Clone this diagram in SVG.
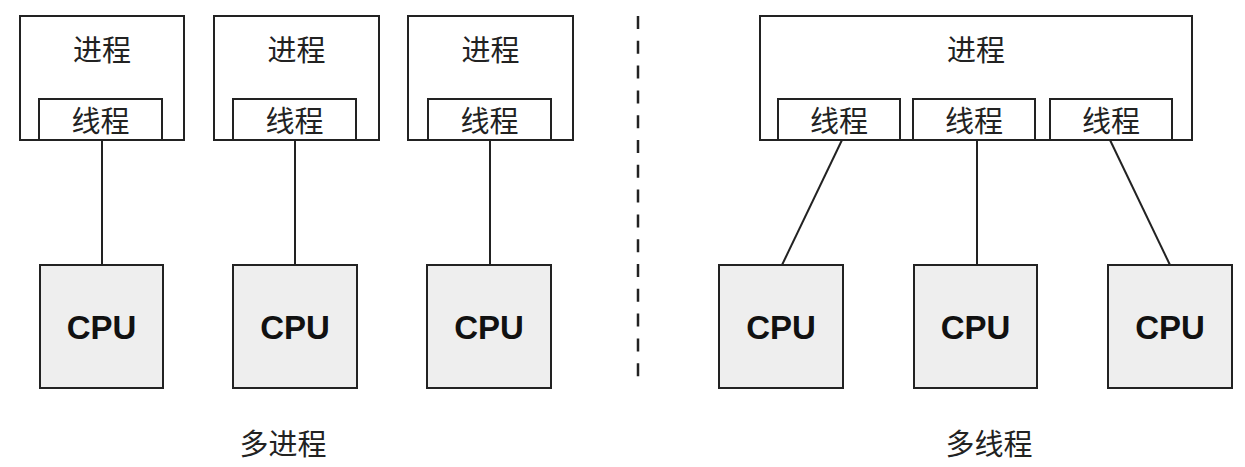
<svg xmlns="http://www.w3.org/2000/svg" width="1245" height="467" viewBox="0 0 1245 467">
<style>
.box{fill:#ffffff;stroke:#222222;stroke-width:2}
.cpu{fill:#eeeeee;stroke:#222222;stroke-width:2}
.cjk{font-family:"Noto Sans CJK SC","Liberation Sans",sans-serif;font-size:29px;fill:#222222;text-anchor:middle;dominant-baseline:central}
.cpuT{font-family:"Liberation Sans",Arial,sans-serif;font-weight:bold;font-size:33px;fill:#111111;text-anchor:middle;dominant-baseline:central}
.line{stroke:#222222;stroke-width:2;fill:none}
</style>
<rect width="1245" height="467" fill="#ffffff"/>
<g id="connectors">
<line class="line" x1="102" y1="140" x2="102" y2="265"/>
<line class="line" x1="295" y1="140" x2="295" y2="265"/>
<line class="line" x1="490" y1="140" x2="490" y2="265"/>
<line class="line" x1="842" y1="140" x2="782" y2="265"/>
<line class="line" x1="977" y1="140" x2="977" y2="265"/>
<line class="line" x1="1110" y1="140" x2="1170" y2="265"/>
<line id="divider" x1="638" y1="16" x2="638" y2="378" stroke="#222222" stroke-width="2.5" stroke-dasharray="13 11.8"/>
</g>
<g id="proc1"><rect class="box" x="20" y="16" width="164" height="124"/><text class="cjk" x="102" y="48">进程</text></g>
<g id="thread1"><rect class="box" x="39" y="99" width="123" height="41"/><text class="cjk" x="100.5" y="119">线程</text></g>
<g id="proc2"><rect class="box" x="214" y="16" width="165" height="124"/><text class="cjk" x="296.5" y="48">进程</text></g>
<g id="thread2"><rect class="box" x="233" y="99" width="123" height="41"/><text class="cjk" x="294.5" y="119">线程</text></g>
<g id="proc3"><rect class="box" x="408" y="16" width="165" height="124"/><text class="cjk" x="490.5" y="48">进程</text></g>
<g id="thread3"><rect class="box" x="428" y="99" width="123" height="41"/><text class="cjk" x="489.5" y="119">线程</text></g>
<g id="cpu1"><rect class="cpu" x="40" y="265" width="123" height="123"/><text class="cpuT" x="101.5" y="327">CPU</text></g>
<g id="cpu2"><rect class="cpu" x="233" y="265" width="124" height="123"/><text class="cpuT" x="295" y="327">CPU</text></g>
<g id="cpu3"><rect class="cpu" x="427" y="265" width="124" height="123"/><text class="cpuT" x="489" y="327">CPU</text></g>
<g id="procR"><rect class="box" x="760" y="16" width="432" height="124"/><text class="cjk" x="976" y="48">进程</text></g>
<g id="threadR1"><rect class="box" x="778" y="99" width="122" height="41"/><text class="cjk" x="839" y="119">线程</text></g>
<g id="threadR2"><rect class="box" x="913" y="99" width="122" height="41"/><text class="cjk" x="974" y="119">线程</text></g>
<g id="threadR3"><rect class="box" x="1050" y="99" width="122" height="41"/><text class="cjk" x="1111" y="119">线程</text></g>
<g id="cpuR1"><rect class="cpu" x="719" y="265" width="124" height="123"/><text class="cpuT" x="781" y="327">CPU</text></g>
<g id="cpuR2"><rect class="cpu" x="914" y="265" width="123" height="123"/><text class="cpuT" x="975.5" y="327">CPU</text></g>
<g id="cpuR3"><rect class="cpu" x="1108" y="265" width="124" height="123"/><text class="cpuT" x="1170" y="327">CPU</text></g>
<g id="labelL"><text class="cjk" x="283" y="442">多进程</text></g>
<g id="labelR"><text class="cjk" x="989" y="442">多线程</text></g>
</svg>
